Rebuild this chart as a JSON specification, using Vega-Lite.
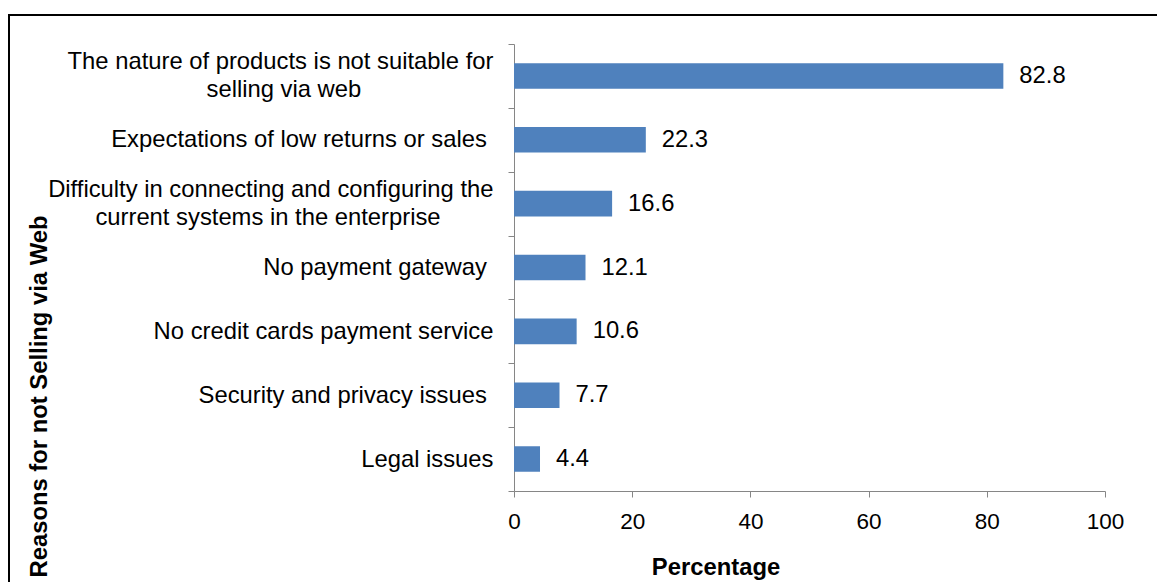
{
  "$schema": "https://vega.github.io/schema/vega-lite/v6.json",
  "width": 1151,
  "height": 570,
  "autosize": {"type": "none"},
  "padding": {"left": 9, "top": 15, "right": -3, "bottom": -3},
  "background": "white",
  "config": {
    "view": {"stroke": "black", "strokeWidth": 2},
    "font": "Liberation Sans"
  },
  "data": {
    "values": [
      {"reason": "The nature of products is not suitable for|selling via web\u00a0\u00a0\u00a0\u00a0\u00a0\u00a0\u00a0\u00a0\u00a0\u00a0\u00a0\u00a0\u00a0\u00a0\u00a0\u00a0\u00a0\u00a0\u00a0\u00a0", "pct": 82.8},
      {"reason": "Expectations of low returns or sales\u00a0", "pct": 22.3},
      {"reason": "Difficulty in connecting and configuring the|current systems in the enterprise\u00a0\u00a0\u00a0\u00a0\u00a0\u00a0\u00a0\u00a0", "pct": 16.6},
      {"reason": "No payment gateway\u00a0", "pct": 12.1},
      {"reason": "No credit cards payment service", "pct": 10.6},
      {"reason": "Security and privacy issues\u00a0", "pct": 7.7},
      {"reason": "Legal issues", "pct": 4.4}
    ]
  },
  "encoding": {
    "y": {
      "field": "reason",
      "type": "nominal",
      "sort": null,
      "scale": {"range": [29, 476], "paddingInner": 0, "paddingOuter": 0},
      "axis": {
        "title": "Reasons for not Selling via Web",
        "offset": -505,
        "tickBand": "extent",
        "tickSize": 6,
        "tickColor": "#868686",
        "domainColor": "#868686",
        "labelFontSize": 23.8,
        "labelColor": "black",
        "labelLimit": 600,
        "labelExpr": "indexof(datum.label, '|') >= 0 ? [split(datum.label, '|')[0], '\u200b', split(datum.label, '|')[1] + '\u200b'] : ['\u200b', datum.label + '\u200b']",
        "labelLineHeight": 14,
        "labelOffset": -14,
        "labelAlign": "right",
        "labelBaseline": "middle",
        "labelPadding": 15,
        "titleFontSize": 23.8,
        "titleFontWeight": "bold",
        "titleColor": "black",
        "titleX": -468,
        "titleY": 381,
        "titleAngle": 270,
        "titleAlign": "center",
        "titleBaseline": "alphabetic"
      }
    },
    "x": {
      "field": "pct",
      "type": "quantitative",
      "scale": {"domain": [0, 100], "range": [505, 1096], "nice": false},
      "axis": {
        "title": "Percentage",
        "offset": -94,
        "values": [0, 20, 40, 60, 80, 100],
        "grid": false,
        "tickSize": 6,
        "tickColor": "#868686",
        "domainColor": "#868686",
        "labelFontSize": 22.5,
        "labelColor": "black",
        "labelPadding": 13,
        "labelFlush": false,
        "titleFontSize": 23.8,
        "titleFontWeight": "bold",
        "titleColor": "black",
        "titleX": 706.5,
        "titleY": 83,
        "titleAlign": "center",
        "titleBaseline": "alphabetic"
      }
    }
  },
  "layer": [
    {"mark": {"type": "bar", "color": "#4F81BD", "height": {"band": 0.4}}},
    {
      "mark": {"type": "text", "align": "left", "baseline": "middle", "dx": 16, "fontSize": 23.8, "color": "black"},
      "encoding": {"text": {"field": "pct", "type": "quantitative", "format": ".1f"}}
    }
  ]
}
